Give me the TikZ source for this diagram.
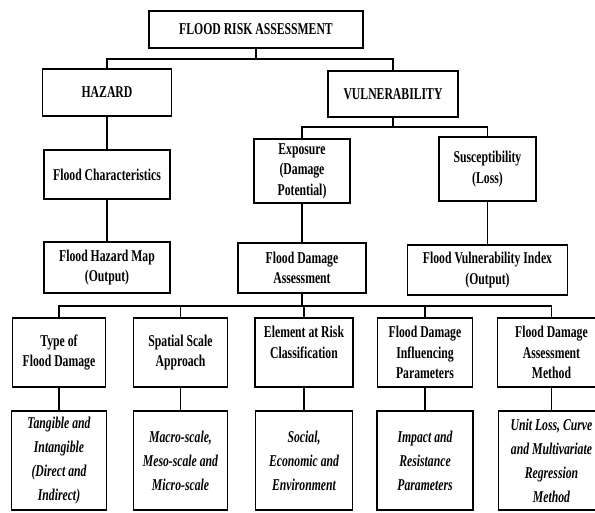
\documentclass[tikz,border=0pt]{standalone}
\usepackage{fontspec}
\setmainfont[FakeStretch=0.71]{Liberation Serif}

\begin{document}
\begin{tikzpicture}[
    x=1pt, y=-1pt,
    box/.style={draw, line width=1.8pt, inner sep=0pt, align=center,
        font=\bfseries\fontsize{16.5}{20.5}\selectfont},
    outbox/.style={box, font=\bfseries\itshape\fontsize{16.5}{24}\selectfont},
    rowbox/.style={box, minimum height=69pt},
    rowout/.style={outbox, minimum height=99pt},
    link/.style={line width=1.4pt}
]
    \useasboundingbox (0,0) rectangle (595,512);
    \clip (0,0) rectangle (595,512);

    % --- LEVEL 1: ROOT ---
    \node[box, minimum width=214pt, minimum height=37pt] (risk) at (256,29.5) {FLOOD RISK ASSESSMENT};

    % --- LEVEL 2: HAZARD / VULNERABILITY ---
    \node[box, minimum width=129pt, minimum height=47pt] (hazard) at (107,92.5) {HAZARD};
    \node[box, minimum width=130pt, minimum height=46pt] (vuln) at (393,94) {VULNERABILITY};

    % --- LEVEL 3 ---
    \node[box, minimum width=126pt, minimum height=49pt] (fchar) at (107,174.5) {Flood Characteristics};
    \node[box, minimum width=96pt, minimum height=64pt] (expo) at (302,171) {Exposure\\(Damage\\Potential)};
    \node[box, minimum width=97pt, minimum height=64pt] (susc) at (487.5,169) {Susceptibility\\(Loss)};

    % --- LEVEL 4: OUTPUTS ---
    \node[box, minimum width=126pt, minimum height=51pt] (hazmap) at (107,267.5) {Flood Hazard Map\\(Output)};
    \node[box, minimum width=128pt, minimum height=50pt] (fda) at (302,268) {Flood Damage\\Assessment};
    \node[box, minimum width=160pt, minimum height=50pt] (fvi) at (487.5,270) {Flood Vulnerability Index\\(Output)};

    % --- LEVEL 5: DAMAGE ASSESSMENT ASPECTS ---
    \node[rowbox, minimum width=93pt] (dmgtype) at (59,352.5) {Type of\\Flood Damage};
    \node[rowbox, minimum width=94pt] (scale) at (180.5,352.5) {Spatial Scale\\Approach};
    \node[rowbox, minimum width=98pt] (element) at (304,352.5) {Element at Risk\\Classification\\\mbox{}};
    \node[rowbox, minimum width=95pt] (params) at (425,352.5) {Flood Damage\\Influencing\\Parameters};
    \node[rowbox, minimum width=108pt] (method) at (551.5,352.5) {Flood Damage\\Assessment\\Method};

    % --- LEVEL 6: DETAILS ---
    \node[rowout, minimum width=95pt] (tangible) at (59,460.5) {Tangible and\\Intangible\\(Direct and\\Indirect)};
    \node[rowout, minimum width=94pt] (macro) at (180.5,460.5) {Macro-scale,\\Meso-scale and\\Micro-scale};
    \node[rowout, minimum width=97pt] (social) at (304,460.5) {Social,\\Economic and\\Environment};
    \node[rowout, minimum width=96pt] (impact) at (425,460.5) {Impact and\\Resistance\\Parameters};
    \node[rowout, minimum width=106pt] (unitloss) at (551.5,460.5) {Unit Loss, Curve\\and Multivariate\\Regression\\Method};

    % --- CONNECTORS ---
    \coordinate (busA) at (0,59);
    \coordinate (busB) at (0,127);
    \coordinate (busC) at (0,306);
    \draw[link] (risk.south) -- (risk.south |- busA);
    \draw[link] (hazard.north) |- (busA -| vuln.north) -- (vuln.north);
    \draw[link] (vuln.south) -- (vuln.south |- busB);
    \draw[link] (expo.north) |- (busB -| susc.north) -- (susc.north);
    \draw[link] (hazard) -- (fchar);
    \draw[link] (fchar) -- (hazmap);
    \draw[link] (expo) -- (fda);
    \draw[link] (susc) -- (fvi);
    \draw[link] (fda.south) -- (fda.south |- busC);
    \draw[link] (dmgtype.north) |- (busC -| method.north) -- (method.north);
    \foreach \n in {scale, element, params}
        \draw[link] (\n.north) -- (\n.north |- busC);
    \foreach \a/\b in {dmgtype/tangible, scale/macro, element/social, params/impact, method/unitloss}
        \draw[link] (\a) -- (\b);

\end{tikzpicture}
\end{document}
